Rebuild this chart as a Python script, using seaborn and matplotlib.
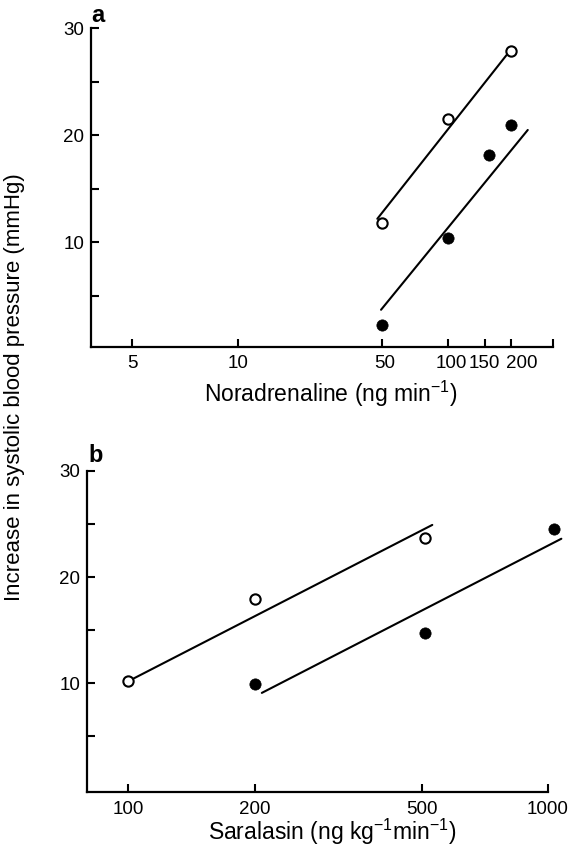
import numpy as np
import pandas as pd
import matplotlib
matplotlib.use("Agg")
import matplotlib.pyplot as plt
import matplotlib.transforms as mtransforms
import seaborn as sns

# ---------------- data ----------------
# Panel a: Noradrenaline (ng/min)
nor_open_x = [50, 100, 200]
nor_open_y = [11.8, 21.5, 27.85]
nor_fill_x = [50, 100, 157, 200]
nor_fill_y = [2.3, 10.4, 18.2, 21.0]
nor_open_line_x = [47.3, 191]
nor_open_line_y = [12.2, 27.5]
nor_fill_line_x = [49.3, 236]
nor_fill_line_y = [3.7, 20.5]
nor_ticks = [5, 10, 50, 100, 150, 200, 300]
nor_tick_labels = ["5", "10", "50", "100", "150", "200", ""]

# Panel b: Saralasin (ng/kg/min)
sar_open_x = [100, 200, 510]
sar_open_y = [10.24, 17.9, 23.7]
sar_fill_x = [200, 510, 1034]
sar_fill_y = [9.9, 14.7, 24.5]
sar_open_line_x = [100, 530]
sar_open_line_y = [10.2, 24.9]
sar_fill_line_x = [208, 1076]
sar_fill_line_y = [9.1, 23.6]
sar_ticks = [100, 200, 500, 1000]
sar_tick_labels = ["100", "200", "500", "1000"]

y_major = [10, 20, 30]
y_minor = [5, 15, 25]

# ---------------- style ----------------
sns.set_style("ticks")
plt.rcParams['font.family'] = ['Liberation Sans', 'DejaVu Sans']
plt.rcParams['mathtext.fontset'] = 'custom'
plt.rcParams['mathtext.rm'] = 'Liberation Sans'
plt.rcParams['mathtext.it'] = 'Liberation Sans:italic'
plt.rcParams['mathtext.bf'] = 'Liberation Sans:bold'
plt.rcParams['text.color'] = 'black'
plt.rcParams['axes.labelcolor'] = 'black'
plt.rcParams['xtick.color'] = 'black'
plt.rcParams['ytick.color'] = 'black'

W, H = 568, 856
fig = plt.figure(figsize=(W / 100, H / 100), dpi=100)

def ax_rect(left, right, top, bottom):
    return [left / W, 1 - bottom / H, (right - left) / W, (bottom - top) / H]

ax_a = fig.add_axes(ax_rect(91, 552.5, 28.3, 346.7))
ax_b = fig.add_axes(ax_rect(87, 548, 470.7, 792.3))

# piecewise-log axis for panel a (the printed axis is not uniformly spaced)
_anchor_vals = np.log10([3.8, 5, 10, 50, 100, 200, 300])
_anchor_pos = np.array([0.0, 41.3, 146.7, 291.3, 357.3, 419.7, 461.5])
_s0 = (_anchor_pos[1] - _anchor_pos[0]) / (_anchor_vals[1] - _anchor_vals[0])
_s1 = (_anchor_pos[-1] - _anchor_pos[-2]) / (_anchor_vals[-1] - _anchor_vals[-2])
_LV = np.concatenate([[-6], _anchor_vals, [8]])
_LP = np.concatenate([[_anchor_pos[0] + _s0 * (-6 - _anchor_vals[0])], _anchor_pos,
                      [_anchor_pos[-1] + _s1 * (8 - _anchor_vals[-1])]])

def _fwd(x):
    lx = np.log10(np.clip(np.asarray(x, dtype=float), 1e-6, None))
    return np.interp(lx, _LV, _LP)

def _inv(p):
    return 10 ** np.interp(np.asarray(p, dtype=float), _LP, _LV)

ax_a.set_xscale('function', functions=(_fwd, _inv))
ax_b.set_xscale('log')

lw = 1.5
open_kw = dict(marker='o', s=55, facecolor='white', edgecolor='black', linewidth=1.5,
               zorder=5, clip_on=False)
fill_kw = dict(marker='o', s=66, color='black', edgecolor='black', linewidth=0.5,
               zorder=5, clip_on=False)
line_kw = dict(color='black', linewidth=lw, estimator=None, sort=False, clip_on=False,
               zorder=3)

def draw(ax, ox, oy, fx, fy, olx, oly, flx, fly):
    sns.lineplot(x=olx, y=oly, ax=ax, **line_kw)
    sns.lineplot(x=flx, y=fly, ax=ax, **line_kw)
    sns.scatterplot(x=ox, y=oy, ax=ax, **open_kw)
    sns.scatterplot(x=fx, y=fy, ax=ax, **fill_kw)

draw(ax_a, nor_open_x, nor_open_y, nor_fill_x, nor_fill_y,
     nor_open_line_x, nor_open_line_y, nor_fill_line_x, nor_fill_line_y)
draw(ax_b, sar_open_x, sar_open_y, sar_fill_x, sar_fill_y,
     sar_open_line_x, sar_open_line_y, sar_fill_line_x, sar_fill_line_y)

ax_a.set_xlim(3.8, 300)
ax_a.set_ylim(0.25, 30)
ax_b.set_xlim(79.7, 1000)
ax_b.set_ylim(-0.25, 30)

for ax, ticks, labels in ((ax_a, nor_ticks, nor_tick_labels), (ax_b, sar_ticks, sar_tick_labels)):
    ax.set_xticks(ticks)
    ax.set_xticklabels(labels)
    ax.xaxis.set_minor_locator(matplotlib.ticker.NullLocator())
    ax.set_yticks(y_major)
    ax.set_yticklabels([str(v) for v in y_major])
    ax.set_yticks(y_minor, minor=True)
    ax.set_xlabel("")
    ax.set_ylabel("")
    sns.despine(ax=ax)
    for sp in ('left', 'bottom'):
        ax.spines[sp].set_linewidth(1.6)
        ax.spines[sp].set_color('black')
    ax.tick_params(axis='x', which='major', direction='in', length=6, width=1.5,
                   labelsize=13.5, pad=6, colors='black')
    ax.tick_params(axis='y', which='both', direction='in', length=5.5, width=1.5,
                   labelsize=13.5, pad=5, colors='black')
    ax.set_facecolor('white')

# axis labels
fig.text(331 / W, 1 - 402 / H, "Noradrenaline (ng min$^{-1}$)",
         ha='center', va='baseline', fontsize=16.5)
fig.text(332 / W, 1 - 840 / H, "Saralasin (ng kg$^{-1}$min$^{-1}$)",
         ha='center', va='baseline', fontsize=16.5)
fig.text(15 / W, 1 - 387 / H, "Increase in systolic blood pressure (mmHg)",
         rotation=90, ha='center', va='center', fontsize=16)

# panel letters
fig.text(91 / W, 1 - 21.7 / H, "a", fontweight='bold', fontsize=17, ha='left', va='baseline')
fig.text(88 / W, 1 - 461.7 / H, "b", fontweight='bold', fontsize=17, ha='left', va='baseline')

# the printed labels of panel a are nudged sideways to avoid crowding
label_shift_px = {"50": 2, "100": 3, "200": 11}
for lab in ax_a.get_xticklabels():
    dx = label_shift_px.get(lab.get_text(), 0)
    if dx:
        lab.set_transform(lab.get_transform() +
                          mtransforms.ScaledTranslation(dx / 100, 0, fig.dpi_scale_trans))

fig.savefig("out.png", dpi=100, facecolor='white')
